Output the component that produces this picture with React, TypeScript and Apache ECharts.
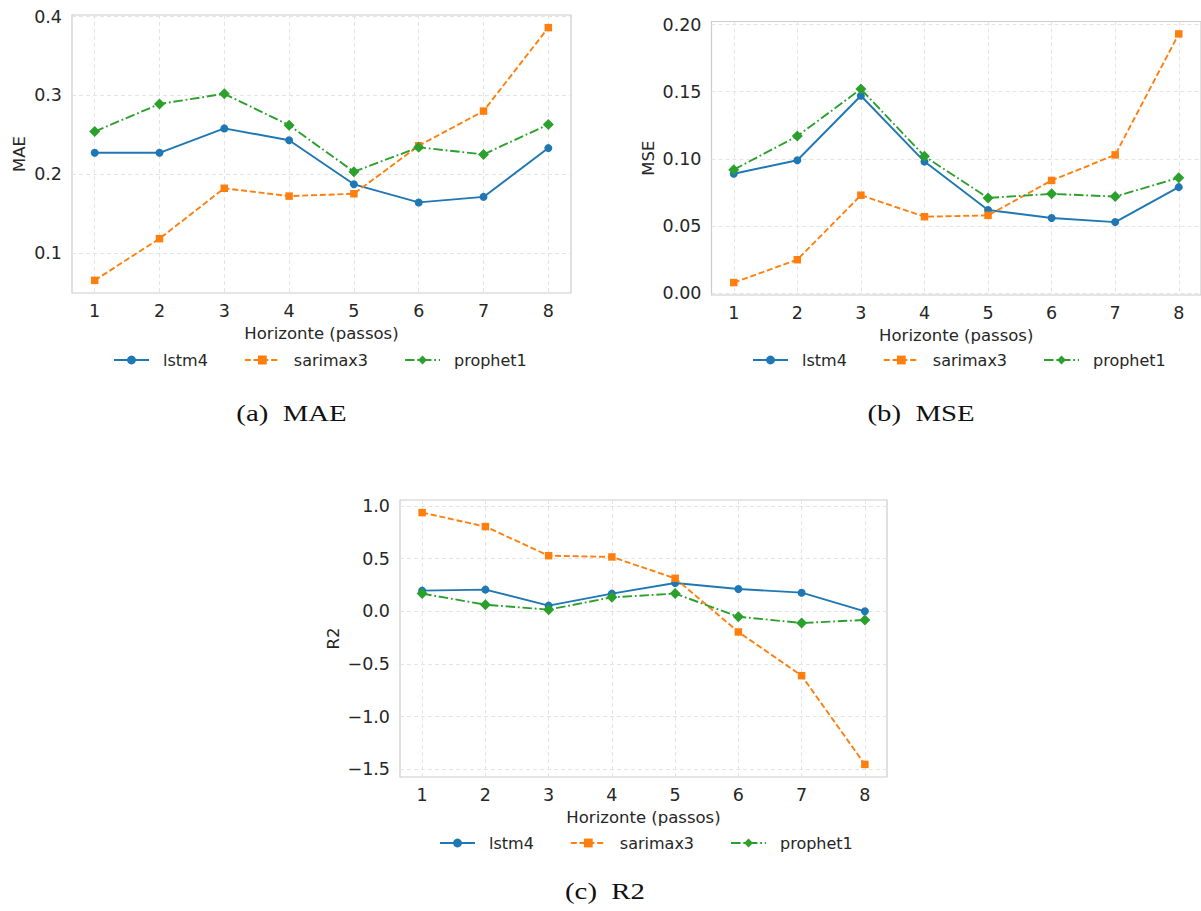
import React, { useEffect, useRef } from "react";
import * as echarts from "echarts";

const horizons = [1, 2, 3, 4, 5, 6, 7, 8];
const seriesNames = ["lstm4", "sarimax3", "prophet1"];

const maeLstm4 = [0.227, 0.227, 0.258, 0.243, 0.187, 0.164, 0.171, 0.233];
const maeSarimax3 = [0.065, 0.118, 0.182, 0.172, 0.175, 0.236, 0.28, 0.386];
const maeProphet1 = [0.254, 0.289, 0.302, 0.262, 0.203, 0.234, 0.225, 0.263];

const mseLstm4 = [0.089, 0.099, 0.147, 0.098, 0.062, 0.056, 0.053, 0.079];
const mseSarimax3 = [0.008, 0.025, 0.073, 0.057, 0.058, 0.084, 0.103, 0.193];
const mseProphet1 = [0.092, 0.117, 0.152, 0.102, 0.071, 0.074, 0.072, 0.086];

const r2Lstm4 = [0.196, 0.206, 0.054, 0.168, 0.269, 0.212, 0.177, 0.0];
const r2Sarimax3 = [0.937, 0.804, 0.528, 0.516, 0.313, -0.196, -0.611, -1.453];
const r2Prophet1 = [0.168, 0.063, 0.016, 0.133, 0.168, -0.051, -0.111, -0.082];

const maeTicks = [0.1, 0.2, 0.3, 0.4];
const mseTicks = [0, 0.05, 0.1, 0.15, 0.2];
const r2Ticks = [-1.5, -1.0, -0.5, 0, 0.5, 1.0];

const yNames = ["MAE", "MSE", "R2"];
const subtitles = ["(a)  MAE", "(b)  MSE", "(c)  R2"];

const COLORS = ["#1f77b4", "#ff7f0e", "#2ca02c"];
const SYMBOLS = ["circle", "rect", "diamond"];
const SYMBOL_SIZES = [8, 7.5, 11];
const LINE_TYPES: any[] = ["solid", [6, 2.8], [9.5, 2.8, 1.8, 2.8]];
const TEXT = "#262626";

function padLimits(arrs: number[][]): [number, number] {
  const all = arrs.flat();
  const mn = Math.min(...all);
  const mx = Math.max(...all);
  const r = mx - mn;
  return [mn - 0.05 * r, mx + 0.05 * r];
}

const fmt = (dec: number) => (v: number) => v.toFixed(dec).replace("-", "\u2212");

export default function App() {
  const ref = useRef<HTMLDivElement>(null);
  useEffect(() => {
    if (!ref.current) return;
    const chart = echarts.init(ref.current, undefined, { renderer: "svg" });

    const panels = [
      { data: [maeLstm4, maeSarimax3, maeProphet1], ticks: maeTicks, dec: 1,
        grid: { left: 72, top: 15, width: 499, height: 278 }, nameGap: 44,
        legendLeft: 113, legendTop: 352, sub: [291.5, 412.5] },
      { data: [mseLstm4, mseSarimax3, mseProphet1], ticks: mseTicks, dec: 2,
        grid: { left: 711.5, top: 21.5, width: 490, height: 273.5 }, nameGap: 55,
        legendLeft: 752, legendTop: 352, sub: [921, 412.5] },
      { data: [r2Lstm4, r2Sarimax3, r2Prophet1], ticks: r2Ticks, dec: 1,
        grid: { left: 400, top: 500, width: 487, height: 277 }, nameGap: 58,
        legendLeft: 439, legendTop: 835, sub: [605, 890.5] },
    ];

    const grids: any[] = [];
    const xAxes: any[] = [];
    const yAxes: any[] = [];
    const series: any[] = [];
    const legends: any[] = [];
    const graphics: any[] = [];

    panels.forEach((p, i) => {
      grids.push({ ...p.grid, show: true, borderColor: "#cccccc", borderWidth: 1.2, backgroundColor: "#ffffff" });
      xAxes.push({
        type: "value", gridIndex: i, min: 0.65, max: 8.35,
        name: "Horizonte (passos)", nameLocation: "middle", nameGap: 32,
        nameTextStyle: { color: TEXT, fontSize: 16.5, fontFamily: "DejaVu Sans" },
        axisLine: { show: false },
        axisTick: { show: false, customValues: horizons },
        axisLabel: { customValues: horizons, color: TEXT, fontSize: 17.5, fontFamily: "DejaVu Sans", margin: 9, formatter: (v: number) => String(v) },
        splitLine: { show: true, lineStyle: { color: "#e4e4e4", type: [4, 3], width: 1 } },
      });
      const [mn, mx] = padLimits(p.data);
      yAxes.push({
        type: "value", gridIndex: i, min: mn, max: mx,
        name: yNames[i], nameLocation: "middle", nameGap: p.nameGap,
        nameTextStyle: { color: TEXT, fontSize: 16.5, fontFamily: "DejaVu Sans" },
        axisLine: { show: false },
        axisTick: { show: false, customValues: p.ticks },
        axisLabel: { customValues: p.ticks, color: TEXT, fontSize: 17.5, fontFamily: "DejaVu Sans", margin: 10, formatter: fmt(p.dec) },
        splitLine: { show: true, lineStyle: { color: "#e4e4e4", type: [4, 3], width: 1 } },
      });
      p.data.forEach((arr, k) => {
        series.push({
          type: "line", name: seriesNames[k], xAxisIndex: i, yAxisIndex: i,
          data: horizons.map((h, j) => [h, arr[j]]),
          symbol: SYMBOLS[k], symbolSize: SYMBOL_SIZES[k], showSymbol: true,
          color: COLORS[k],
          itemStyle: { color: COLORS[k] },
          lineStyle: { color: COLORS[k], width: 1.9, type: LINE_TYPES[k] },
          z: 2 + k,
        });
      });
      legends.push({
        data: seriesNames, left: p.legendLeft, top: p.legendTop, orient: "horizontal",
        itemWidth: 35, itemHeight: 11, itemGap: 36, padding: 0,
        textStyle: { color: TEXT, fontSize: 16, fontFamily: "DejaVu Sans", padding: [0, 0, 0, 9] },
        selectedMode: false,
      });
      graphics.push({
        type: "text", x: p.sub[0], y: p.sub[1], scaleX: 1.2,
        style: { text: subtitles[i], fill: "#111111", font: "normal 24px 'Liberation Serif'", textAlign: "center", textVerticalAlign: "middle" },
      });
    });

    chart.setOption({
      animation: false,
      backgroundColor: "#ffffff",
      grid: grids,
      xAxis: xAxes,
      yAxis: yAxes,
      legend: legends,
      series,
      graphic: graphics,
    });
    return () => chart.dispose();
  }, []);
  return <div ref={ref} style={{ position: "absolute", left: 0, top: 0, width: 1201, height: 911 }} />;
}
